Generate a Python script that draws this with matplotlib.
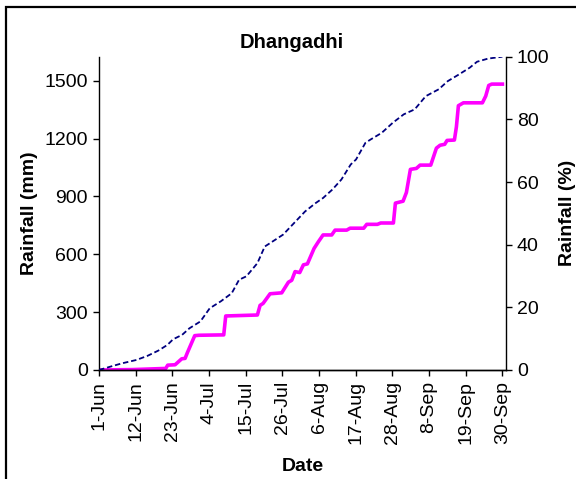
import matplotlib
matplotlib.use("Agg")
import matplotlib.pyplot as plt
from matplotlib.patches import Rectangle

# cumulative rainfall (mm), days counted from 1-Jun
rain_day = [0, 10, 20, 20.6, 22.8, 24.8, 25.8, 26.5, 28.7, 30, 37.4, 38, 47.5, 48.3, 49.2,
            51.3, 54.8, 56.8, 57.8, 58.8, 60.2, 61.3, 62.5, 64.5, 65.8, 67.2, 69.8, 70.8,
            74.3, 75.3, 79.4, 80.3, 83.5, 84.5, 88.3, 88.9, 91.2, 92.2, 93.4, 95.2, 96.3,
            99.5, 101.2, 102.3, 103.7, 104.4, 106.6, 107.2, 107.8, 109.3, 115, 116, 116.9,
            117.8, 121]
rain_mm = [0, 2, 8, 25, 27, 58, 60, 90, 178, 180, 182, 280, 285, 335, 345,
           395, 400, 455, 465, 510, 505, 545, 550, 630, 665, 700, 700, 725,
           725, 735, 735, 755, 755, 762, 762, 865, 875, 920, 1040, 1045, 1062,
           1062, 1150, 1165, 1170, 1190, 1192, 1260, 1370, 1385, 1385, 1420, 1475,
           1482, 1482]

# cumulative rainfall (%)
pct_day = [0, 3.5, 6.8, 11.2, 14.5, 17.8, 20.5, 22.2, 24.9, 27.1, 30.4, 33.2, 36.5, 39.8,
           42, 44.2, 47.5, 49.7, 52.9, 55.2, 58.5, 61.8, 65, 67.2, 70, 72.7, 75.5, 77.1,
           79.9, 81.5, 84.8, 88.1, 91.4, 94.7, 98, 101.9, 104.6, 107.9, 111.2, 113.4,
           116.7, 121]
pct_val = [0, 1.1, 2.1, 3.2, 4.5, 6.2, 8.0, 9.8, 11.2, 13.3, 15.5, 19.7, 21.9, 24.5,
           28.8, 29.9, 34.1, 39.4, 41.6, 43.2, 46.9, 50.6, 53.3, 54.9, 57.6, 60.8, 65.6, 67.2,
           72.5, 73.6, 75.7, 78.9, 81.6, 83.2, 87.4, 89.6, 92.2, 94.3, 96.5, 98.4,
           99.4, 100]

tick_days = [0, 11, 22, 33, 44, 55, 66, 77, 88, 99, 110, 121]
tick_labels = ["1-Jun", "12-Jun", "23-Jun", "4-Jul", "15-Jul", "26-Jul", "6-Aug",
               "17-Aug", "28-Aug", "8-Sep", "19-Sep", "30-Sep"]

plt.rcParams['font.family'] = ['Liberation Sans', 'DejaVu Sans']

fig = plt.figure(figsize=(5.76, 4.79), dpi=100)
ax = fig.add_axes([0.172, 0.2276, 0.706, 0.654])
ax2 = ax.twinx()

ax.plot(rain_day, rain_mm, color='#FF00FF', lw=2.6, solid_joinstyle='round')
ax2.plot(pct_day, pct_val, color='#000080', lw=1.3, linestyle=(0, (3, 1.6)))

ax.set_xlim(0, 122)
ax.set_ylim(0, 1624)
ax2.set_ylim(0, 100)
ax.set_xticks(tick_days)
ax.set_xticklabels(tick_labels, rotation=90)
ax.set_yticks([0, 300, 600, 900, 1200, 1500])
ax2.set_yticks([0, 20, 40, 60, 80, 100])

for a in (ax, ax2):
    a.spines['top'].set_visible(False)
    for s in a.spines.values():
        s.set_color('black')
        s.set_linewidth(1.0)
    a.tick_params(labelsize=14, length=4, width=1, colors='black', pad=4)
ax2.spines['left'].set_visible(False)
ax.spines['right'].set_visible(False)

ax.set_ylabel("Rainfall (mm)", fontsize=14, fontweight='bold', labelpad=5)
ax2.set_ylabel("Rainfall (%)", fontsize=14, fontweight='bold', labelpad=7)
ax.set_xlabel("Date", fontsize=14, fontweight='bold', labelpad=10)
fig.text(0.506, 0.912, "Dhangadhi", ha='center', va='center', fontsize=14.5,
         fontweight='bold')

fig.patches.append(Rectangle((6 / 576, -0.1), 1.2, 1 - 7 / 479 + 0.1,
                             transform=fig.transFigure, fill=False,
                             edgecolor='black', lw=1.6))

fig.savefig("out.png", dpi=100)
